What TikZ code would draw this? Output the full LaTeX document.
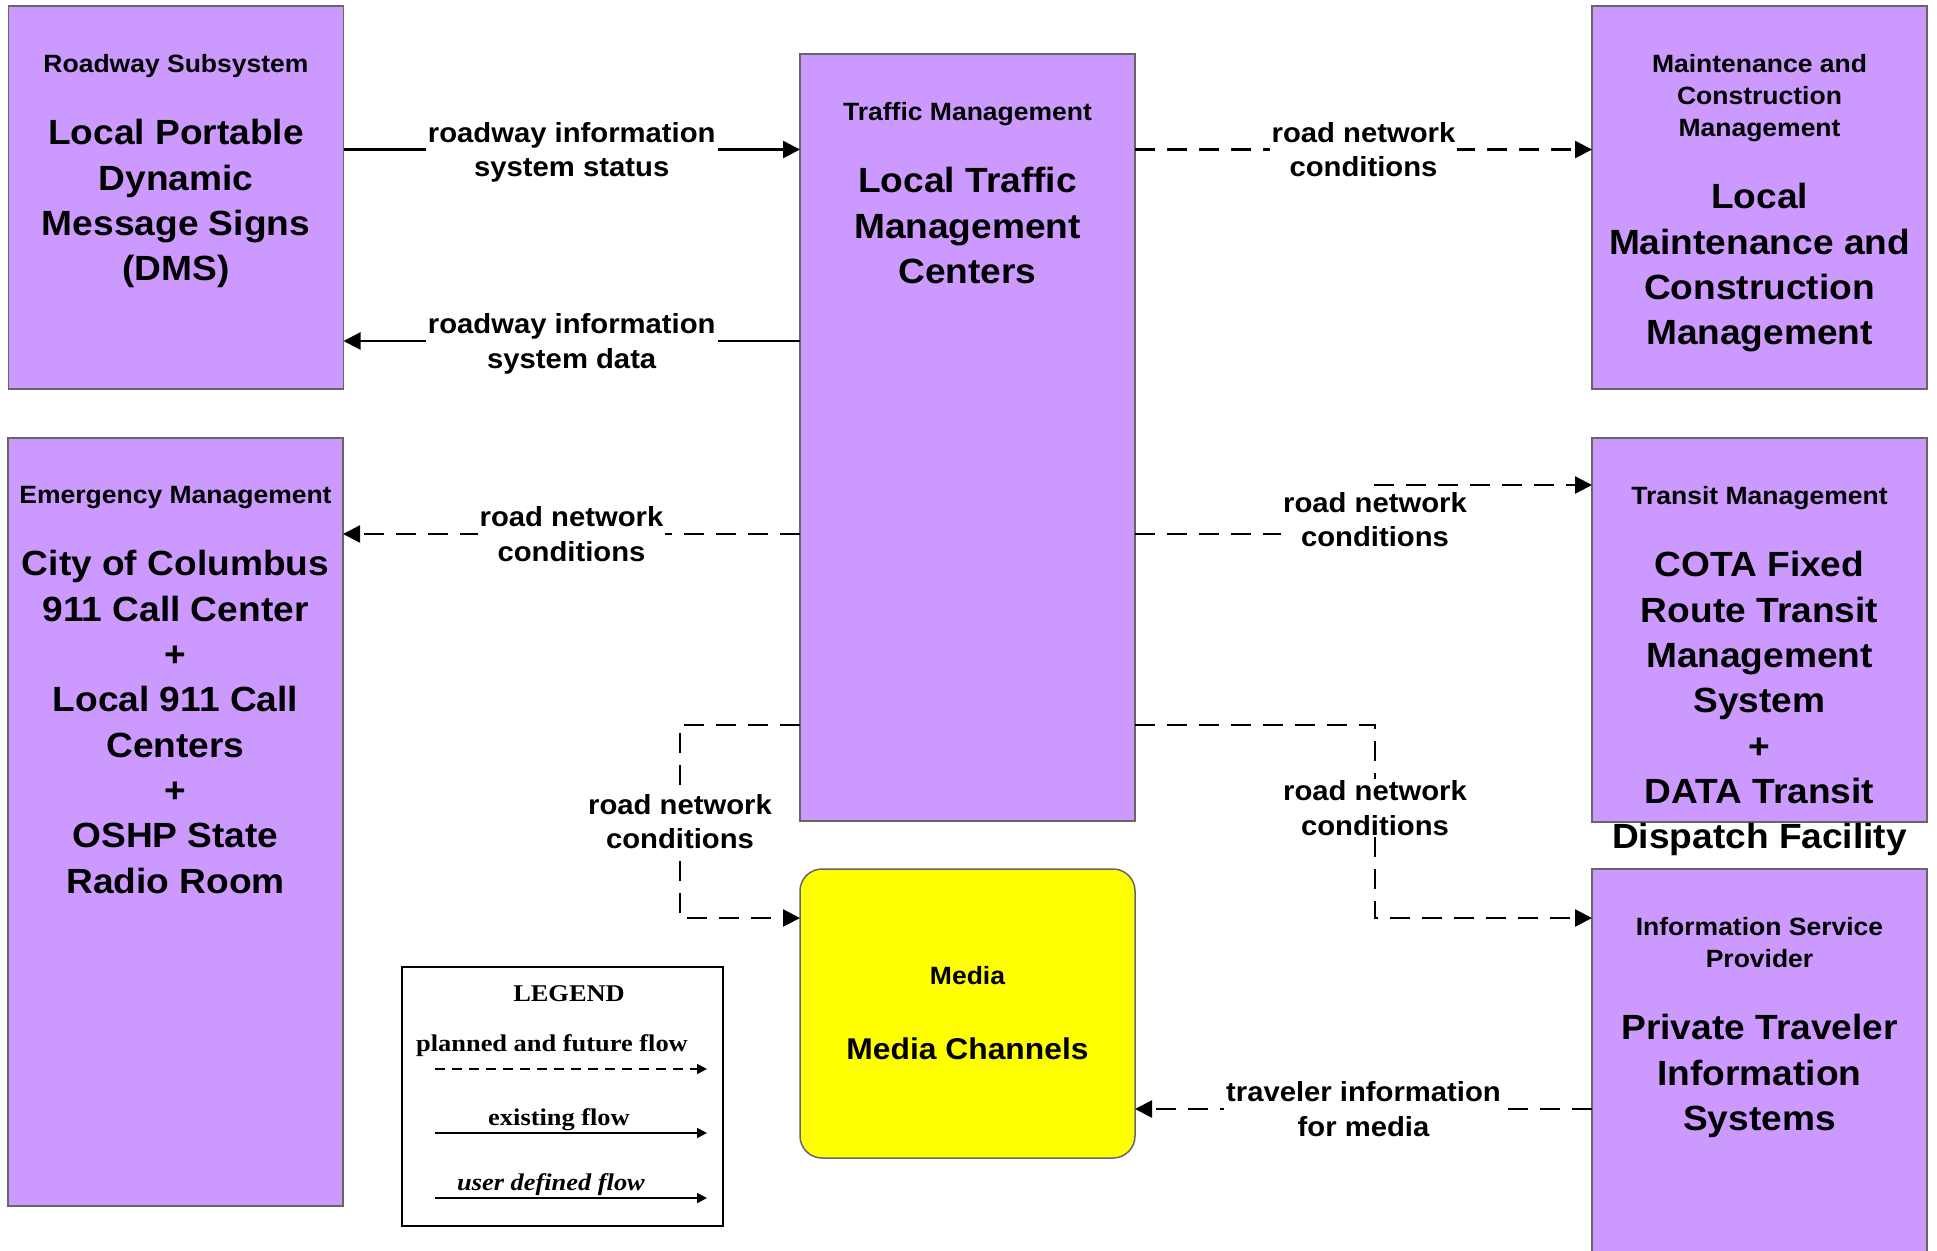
\documentclass[tikz,border=0pt]{standalone}
\usepackage{fontspec}
\newfontfamily\diagfont{Liberation Sans}[FakeStretch=1.06]
\newfontfamily\legfont{Liberation Serif}[FakeStretch=1.1]
\usetikzlibrary{arrows.meta,positioning}
\definecolor{sysfill}{HTML}{CC99FF}
\definecolor{sysline}{HTML}{666666}
\definecolor{medfill}{HTML}{FFFF00}
\newcommand{\hdrfont}{\fontsize{25}{32}\selectfont}

\begin{document}
\begin{tikzpicture}[x=1pt,y=-1pt,
  sys/.style={rectangle,draw=sysline,fill=sysfill,line width=1.5pt,minimum width=335pt,inner sep=0pt,outer sep=0pt},
  systxt/.style={align=center,inner sep=0pt,font=\diagfont\bfseries\fontsize{35}{45.3}\selectfont},
  flow/.style={line width=2.4pt,-{Triangle[length=17pt,width=17pt]}},
  existing/.style={flow},
  planned/.style={flow,dash pattern=on 20pt off 12pt},
  flowlbl/.style={fill=white,inner sep=2pt,text depth=0pt,align=center,font=\diagfont\bfseries\fontsize{27.6}{34.6}\selectfont},
  legtxt/.style={anchor=base,inner sep=0pt,font=\legfont\bfseries\fontsize{24}{28}\selectfont},
  legflow/.style={line width=1.8pt,-{Triangle[length=10pt,width=10pt]}}]
\useasboundingbox (0,0) rectangle (1937,1250);

% subsystems
\node[sys,minimum height=383pt] (rdw) at (176,197.5) {};
\node[sys,minimum height=767pt] (tmc) at (967.5,437.5) {};
\node[sys,minimum height=383pt] (mcm) at (1759.5,197.5) {};
\node[sys,minimum height=768pt] (emg) at (175.5,822) {};
\node[sys,minimum height=384pt] (tsm) at (1759.5,630) {};
\node[sys,minimum height=391pt] (isp) at (1759.5,1064.5) {};
\node[sys,fill=medfill,rounded corners=22pt,minimum height=289pt] (med) at (967.5,1013.5) {};

\node[systxt,below=48pt of rdw.north] (rdw-t) {{\hdrfont Roadway Subsystem}\\[27.2pt]Local Portable\\Dynamic\\Message Signs\\(DMS)};
\node[systxt,below=48pt of tmc.north] (tmc-t) {{\hdrfont Traffic Management}\\[27.2pt]Local Traffic\\Management\\Centers};
\node[systxt,below=48pt of mcm.north] (mcm-t) {{\hdrfont Maintenance and}\\[-13.3pt]{\hdrfont Construction}\\[-13.3pt]{\hdrfont Management}\\[27.2pt]Local\\Maintenance and\\Construction\\Management};
\node[systxt,below=48pt of emg.north] (emg-t) {{\hdrfont Emergency Management}\\[27.2pt]City of Columbus\\911 Call Center\\+\\Local 911 Call\\Centers\\+\\OSHP State\\Radio Room};
\node[systxt,below=48pt of tsm.north] (tsm-t) {{\hdrfont Transit Management}\\[27.2pt]COTA Fixed\\Route Transit\\Management\\System\\+\\DATA Transit\\Dispatch Facility};
\node[systxt,below=48pt of isp.north] (isp-t) {{\hdrfont Information Service}\\[-13.3pt]{\hdrfont Provider}\\[27.2pt]Private Traveler\\Information\\Systems};
\node[systxt,font=\diagfont\bfseries\fontsize{30}{40}\selectfont,below=97pt of med.north] (med-t) {{\hdrfont Media}\\[34.7pt]Media Channels};

% flows
\draw[existing] (rdw.east |- 0,149.5) -- node[flowlbl]{roadway information\\system status} (tmc.west |- 0,149.5);
\draw[existing] (tmc.west |- 0,341) -- node[flowlbl]{roadway information\\system data} (rdw.east |- 0,341);
\draw[planned] (tmc.east |- 0,149.5) -- node[flowlbl]{road network\\conditions} (mcm.west |- 0,149.5);
\draw[planned] (tmc.west |- 0,534) -- node[flowlbl]{road network\\conditions} (emg.east |- 0,534);
\draw[planned] (tmc.east |- 0,534) -- (1375,534) -- node[flowlbl,pos=0.3]{road network\\conditions} (1375,485) -- (tsm.west |- 0,485);
\draw[planned] (tmc.west |- 0,725) -- (680,725) -- node[flowlbl]{road network\\conditions} (680,918) -- (med.west |- 0,918);
\draw[planned] (tmc.east |- 0,725) -- (1375,725) -- node[flowlbl,pos=0.43]{road network\\conditions} (1375,918) -- (isp.west |- 0,918);
\draw[planned] (isp.west |- 0,1109) -- node[flowlbl]{traveler information\\for media} (med.east |- 0,1109);

% legend
\node[draw,line width=2.5pt,minimum width=321pt,minimum height=259pt,inner sep=0pt] (lg) at (562.5,1096.5) {};
\node[legtxt] (lg-title) at (569,1001) {LEGEND};
\node[legtxt] (lg-pl) at (552,1051) {planned and future flow};
\node[legtxt] (lg-ex) at (559,1125) {existing flow};
\node[legtxt,font=\legfont\bfseries\itshape\fontsize{24}{28}\selectfont] (lg-ud) at (551,1190) {user defined flow};
\coordinate (pl-s) at (435,1069); \coordinate (pl-e) at (707,1069);
\coordinate (ex-s) at (435,1133); \coordinate (ex-e) at (707,1133);
\coordinate (ud-s) at (435,1198); \coordinate (ud-e) at (707,1198);
\draw[legflow,dash pattern=on 10pt off 7pt] (pl-s) -- (pl-e);
\draw[legflow] (ex-s) -- (ex-e);
\draw[legflow] (ud-s) -- (ud-e);
\end{tikzpicture}
\end{document}
